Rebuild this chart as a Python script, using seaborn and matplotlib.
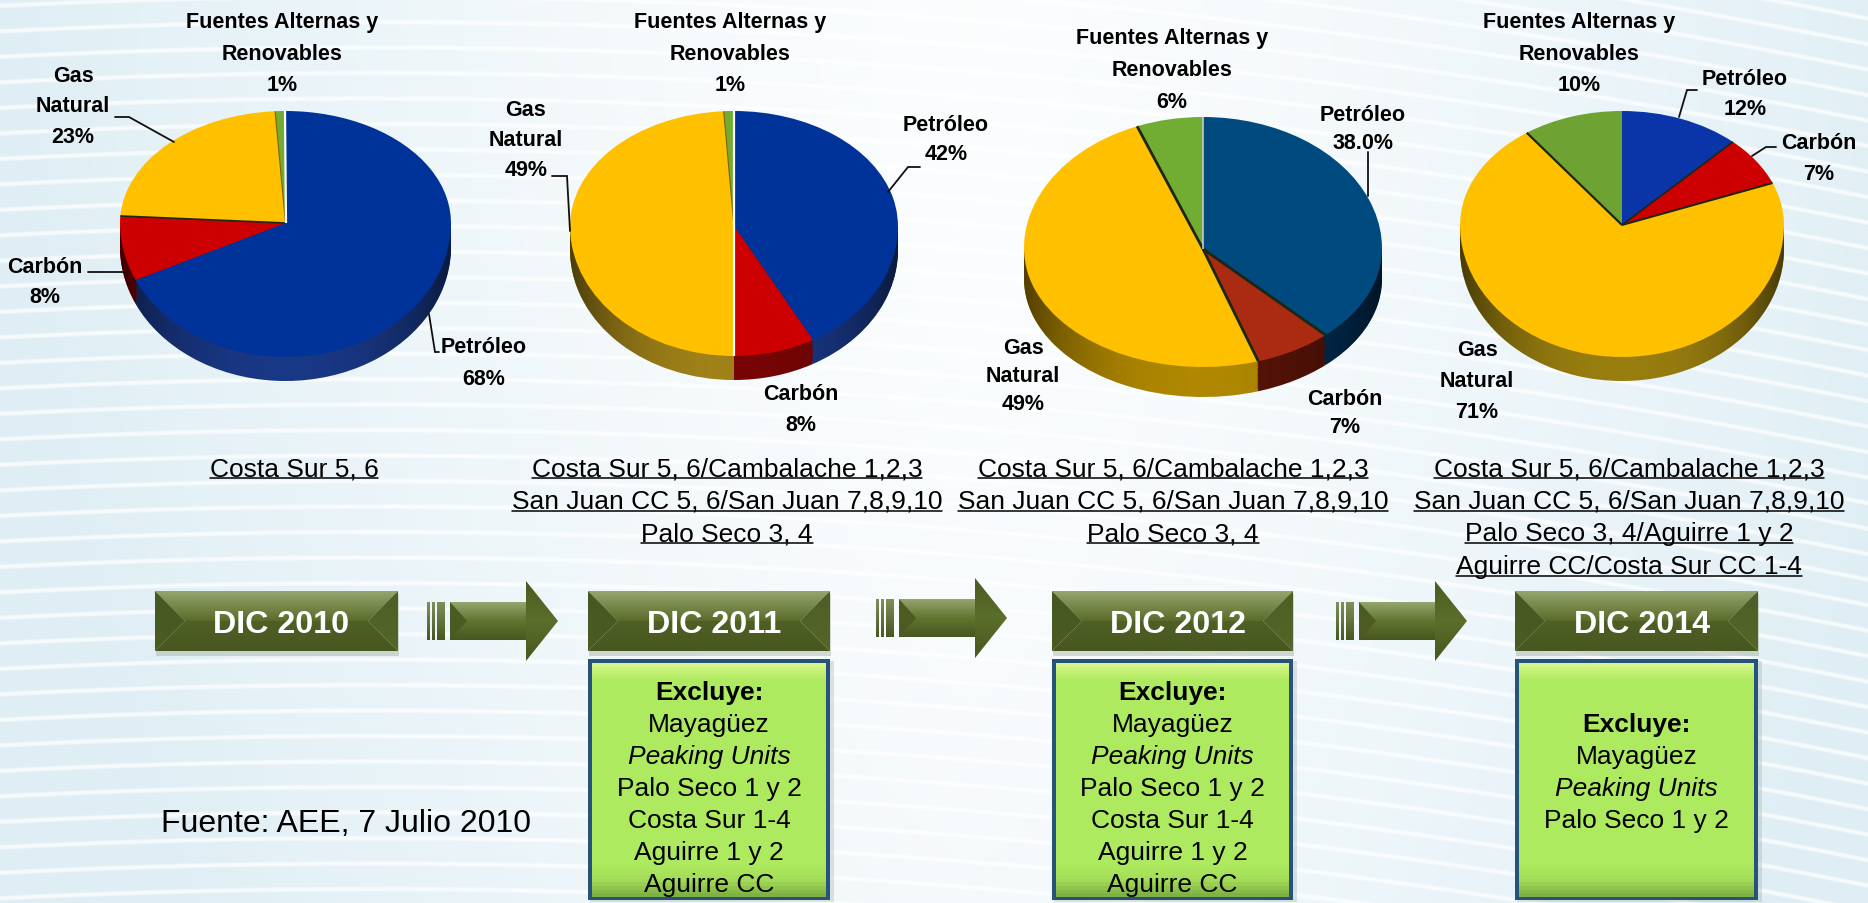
"""Generacion por combustible, DIC 2010 - DIC 2014."""

import matplotlib

matplotlib.use("Agg")

import matplotlib.pyplot as plt
import numpy as np
import seaborn as sns
from matplotlib.colors import LinearSegmentedColormap
from matplotlib.patches import Polygon, Rectangle

W, H = 1868, 904

# order in every pie: Petroleo, Carbon, Gas Natural, Fuentes Alternas
share_2010 = [68, 8, 23, 1]
share_2011 = [42, 8, 49, 1]
share_2012 = [38, 7, 49, 6]
share_2014 = [12, 7, 71, 10]

years = ["DIC 2010", "DIC 2011", "DIC 2012", "DIC 2014"]
plants_2010 = ["Costa Sur 5, 6"]
plants_2011 = ["Costa Sur 5, 6/Cambalache 1,2,3", "San Juan CC 5, 6/San Juan 7,8,9,10", "Palo Seco 3, 4"]
plants_2012 = list(plants_2011)
plants_2014 = ["Costa Sur 5, 6/Cambalache 1,2,3", "San Juan CC 5, 6/San Juan 7,8,9,10",
               "Palo Seco 3, 4/Aguirre 1 y 2", "Aguirre CC/Costa Sur CC 1-4"]
excl_long = ["Mayagüez", "Peaking Units", "Palo Seco 1 y 2", "Costa Sur 1-4", "Aguirre 1 y 2", "Aguirre CC"]
excl_short = ["Mayagüez", "Peaking Units", "Palo Seco 1 y 2"]

FUENTES = ["Fuentes Alternas y", "Renovables"]
GAS = ["Gas", "Natural"]
DY = 2.5  # va="center" sits a bit high for these fonts


def px_axes(fig, x0, x1, y0, y1):
    return fig.add_axes([x0 / W, 1 - y1 / H, (x1 - x0) / W, (y1 - y0) / H])


def draw_pie(fig, values, colors, side, box, apex_y, depth, seps):
    left, right, top, bottom = box
    # side wall: a stack of darker pies, only the lower rim stays visible
    ax = px_axes(fig, left, right, apex_y, bottom + depth)
    ry = bottom - apex_y
    drop = depth / ry
    for off in np.linspace(drop, 0, 14):
        ax.pie(values, colors=side, startangle=90, counterclock=False, center=(0, -off),
               wedgeprops={"linewidth": 0, "clip_on": True})
    ax.set_aspect("auto")
    t = np.linspace(np.pi, 2 * np.pi, 80)
    rim = np.column_stack([np.cos(t), np.sin(t) - drop])
    clip = Polygon(np.vstack([rim, [[1, 0], [-1, 0]]]), transform=ax.transData, fc="none", ec="none")
    ax.add_patch(clip)
    shade = np.zeros((1, 200, 4))
    xs = np.linspace(-1, 1, 200)
    shade[..., 3] = 0.05 + 0.5 * np.abs(xs) ** 2.5
    ax.imshow(shade, extent=(-1, 1, -1 - drop, 0), aspect="auto", clip_path=clip, zorder=5)
    ax.set_xlim(-1, 1)
    ax.set_ylim(-1 - drop, 0)
    ax.axis("off")

    # top face, upper and lower half squeezed apart because of the perspective
    up, low = apex_y - top, bottom - apex_y
    ax = px_axes(fig, left, right, top, bottom)
    ax.pie(values, colors=colors, startangle=90, counterclock=False,
           wedgeprops={"linewidth": 0, "clip_on": False})
    ax.set_aspect("auto")
    ax.set_yscale("function", functions=(
        lambda y: np.where(y > 0, y * up, y * low),
        lambda v: np.where(v > 0, v / up, v / low),
    ))
    # slice borders from the same shares
    ends = np.cumsum(values) / np.sum(values) * 2 * np.pi
    for ang, (col, lw) in zip(ends, seps):
        if col is not None:
            ax.plot([0, np.sin(ang)], [0, np.cos(ang)], color=col, lw=lw, clip_on=False,
                    solid_capstyle="butt")
    ax.set_xlim(-1, 1)
    ax.set_ylim(-1, 1)
    ax.axis("off")


def block(ax, x, y, lines, step=31, size=15.5, weight="bold", **kw):
    for i, line in enumerate(lines):
        ax.text(x, y + DY + i * step, line, ha="center", va="center", fontsize=size,
                fontweight=weight, color="black", **kw)


def leader(ax, xs, ys):
    ax.plot(xs, ys, color="#111111", lw=1.3, solid_joinstyle="miter")


def grad_fill(ax, pts, stops):
    """Fill a polygon with a vertical colour ramp."""
    pts = np.asarray(pts, dtype=float)
    poly = Polygon(pts, fc="none", ec="none", zorder=1)
    ax.add_patch(poly)
    cmap = LinearSegmentedColormap.from_list("ramp", stops)
    extent = (pts[:, 0].min(), pts[:, 0].max(), pts[:, 1].max(), pts[:, 1].min())
    ax.imshow(np.linspace(0, 1, 64)[:, None], cmap=cmap, extent=extent, aspect="auto",
              clip_path=poly, zorder=1)


def year_box(ax, x0, x1, y0, y1, label):
    ax.add_patch(Rectangle((x0 + 1, y0 + 3), x1 - x0, y1 - y0 + 2, fc="#9aa893", ec="none", alpha=0.4, zorder=1))
    ym = (y0 + y1) / 2
    b = 30
    grad_fill(ax, [(x0, y0), (x1, y0), (x1 - b, ym), (x0 + b, ym)], ["#94a56e", "#5a6b2a"])
    grad_fill(ax, [(x0, y1), (x1, y1), (x1 - b, ym), (x0 + b, ym)], ["#4f6026", "#47571f"])
    grad_fill(ax, [(x0, y0), (x0 + b, ym), (x0, y1)], ["#485823", "#4b5b22"])
    grad_fill(ax, [(x1, y0), (x1 - b, ym), (x1, y1)], ["#4e5e25", "#55662a"])
    ax.text((x0 + x1) / 2 + 5, ym + 3.5, label, ha="center", va="center", color="white",
            fontsize=23.2, fontweight="bold")


def arrow(ax, x, yc):
    for sx, sw in [(0, 3), (5, 3), (10, 8)]:
        grad_fill(ax, [(x + sx, yc - 19), (x + sx + sw, yc - 19), (x + sx + sw, yc + 19), (x + sx, yc + 19)],
                  ["#7f9058", "#47571f"])
    grad_fill(ax, [(x + 23, yc - 19), (x + 99, yc - 19), (x + 99, yc + 19), (x + 23, yc + 19)],
              ["#94a56e", "#62742f", "#47571f"])
    grad_fill(ax, [(x + 99, yc - 40), (x + 131, yc), (x + 99, yc + 40)], ["#4b5b22", "#5c6e2b", "#47571f"])
    ax.add_patch(Polygon([(x + 23, yc - 19), (x + 40, yc), (x + 23, yc + 19)], fc="#4b5b22", ec="none", zorder=1))


def green_box(ax, x0, x1, y0, y1):
    ax.add_patch(Rectangle((x0 + 2, y0 + 2), x1 - x0 + 2, y1 - y0, fc="#8c9488", ec="none", alpha=0.25, zorder=1))
    ax.add_patch(Rectangle((x0, y0), x1 - x0, y1 - y0, fc="#25537c", ec="none", zorder=1))
    grad_fill(ax, [(x0 + 4, y0 + 4), (x1 - 4, y0 + 4), (x1 - 4, y1 - 3), (x0 + 4, y1 - 3)],
              ["#d6f687", "#aeea5f", "#aeea5f", "#aeea5f", "#aeea5f", "#aeea5f", "#aeea5f", "#aeea5f", "#aeea5f",
               "#aeea5f", "#aeea5f", "#aeea5f", "#aeea5f", "#aeea5f", "#a4dd58", "#7fb143"])


sns.set_theme(style="white")
plt.rcParams["font.family"] = ["Liberation Sans", "DejaVu Sans"]

fig = plt.figure(figsize=(W / 100, H / 100), dpi=100)

# background wash with the thin pale streaks
bg = fig.add_axes([0, 0, 1, 1])
yy, xx = np.mgrid[0:H, 0:W]
edge_dist = np.abs(xx - W * 0.52) / (W * 0.52)
tint = np.clip(0.12 + 0.9 * edge_dist ** 1.4 + 0.2 * (yy / H) ** 2, 0, 1)
phase = yy + 0.05 * xx - 6.7e-5 * xx ** 2
wave = np.sin(phase * 2 * np.pi / 25.5)
streak = np.clip((wave - 0.75) / 0.25, 0, 1)
tint = tint * (1 - 0.75 * streak)
base = np.array([1.0, 1.0, 1.0])
cold = np.array([0.875, 0.935, 0.96])
img = base + (cold - base) * tint[..., None]
bg.imshow(img, aspect="auto", extent=(0, W, H, 0))
bg.axis("off")

RED, GAS_C, GREEN = "#cc0000", "#ffc000", "#70ad32"
DARK = "#1c2610"
draw_pie(fig, share_2010, ["#003399", RED, GAS_C, GREEN], ["#1a3a8c", "#8a0000", "#8a7000", "#4a7020"],
         (120, 451, 112, 358), 224, 24,
         [(None, 0), (DARK, 1.2), ("#806000", 0.8), ("#ffffff", 1.6)])
draw_pie(fig, share_2011, ["#003399", RED, GAS_C, GREEN], ["#1a3a8c", "#7d0505", "#a8881a", "#4a7020"],
         (570, 898, 112, 357), 227, 24,
         [(None, 0), ("#ffffff", 1.6), ("#806000", 0.8), ("#ffffff", 1.6)])
draw_pie(fig, share_2012, ["#004a80", "#ab2b12", GAS_C, GREEN], ["#00305a", "#5a1407", "#b88e00", "#4a7020"],
         (1024, 1382, 118, 368), 250, 30,
         [(DARK, 2), (DARK, 2), (DARK, 2), ("#c8c8c8", 1.2)])
draw_pie(fig, share_2014, ["#0a35a8", RED, GAS_C, "#6ea232"], ["#1a3a8c", "#7d0505", "#a08410", "#4a7020"],
         (1460, 1784, 112, 358), 226, 24,
         [(DARK, 1.2), (DARK, 1.4), (DARK, 1.6), (None, 0)])

ax = fig.add_axes([0, 0, 1, 1], facecolor="none")

# pie labels, share taken from the arrays above
block(ax, 282, 20, FUENTES + [f"{share_2010[3]}%"], step=31.5)
block(ax, 73, 74, GAS + [f"{share_2010[2]}%"], step=30.5)
block(ax, 45, 265, ["Carbón", f"{share_2010[1]}%"], step=30)
block(ax, 484, 345, ["Petróleo", f"{share_2010[0]}%"], step=32)

block(ax, 730, 20, FUENTES + [f"{share_2011[3]}%"], step=31.5)
block(ax, 526, 108, GAS + [f"{share_2011[2]}%"], step=30)
block(ax, 946, 123, ["Petróleo", f"{share_2011[0]}%"], step=29)
block(ax, 801, 392, ["Carbón", f"{share_2011[1]}%"], step=31)

block(ax, 1172, 36, FUENTES + [f"{share_2012[3]}%"], step=32)
block(ax, 1363, 113, ["Petróleo", f"{share_2012[0]:.1f}%"], step=28)
block(ax, 1023, 346, GAS + [f"{share_2012[2]}%"], step=28)
block(ax, 1345, 397, ["Carbón", f"{share_2012[1]}%"], step=28)

block(ax, 1579, 20, FUENTES + [f"{share_2014[3]}%"], step=31.5)
block(ax, 1745, 77, ["Petróleo", f"{share_2014[0]}%"], step=30)
block(ax, 1819, 141, ["Carbón", f"{share_2014[1]}%"], step=31)
block(ax, 1477, 348, GAS + [f"{share_2014[2]}%"], step=31)

leader(ax, [115, 129, 174], [118, 118, 143])
leader(ax, [88, 126], [273, 273])
leader(ax, [429, 435, 439], [315, 353, 353])
leader(ax, [552, 567, 570], [177, 177, 232])
leader(ax, [920, 908, 888], [168, 168, 193])
leader(ax, [1368, 1368], [153, 197])
leader(ax, [1697, 1687, 1679], [91, 91, 118])
leader(ax, [1776, 1766, 1752], [148, 148, 157])

# underlined plant lists
renderer = fig.canvas.get_renderer()
for x, lines in zip([294, 727, 1173, 1629], [plants_2010, plants_2011, plants_2012, plants_2014]):
    for i, line in enumerate(lines):
        y = 467 + i * 32.5
        t = ax.text(x, y + DY, line, ha="center", va="center", fontsize=19, color="black")
        ext = t.get_window_extent(renderer)
        ax.plot([x - ext.width / 2, x + ext.width / 2], [y + 12, y + 12], color="black", lw=1.1)

for (x0, x1), label in zip([(155, 398), (588, 830), (1052, 1293), (1515, 1758)], years):
    year_box(ax, x0, x1, 592, 652, label)
for x, yc in [(427, 622), (876, 619), (1336, 622)]:
    arrow(ax, x, yc)

for (x0, x1), items, y0 in [((588, 830), excl_long, 691), ((1052, 1293), excl_long, 691),
                            ((1515, 1758), excl_short, 723)]:
    green_box(ax, x0, x1, 660, 901)
    xc = (x0 + x1) / 2
    block(ax, xc, y0, ["Excluye:"], size=19)
    for i, item in enumerate(items):
        ax.text(xc, y0 + DY + 32 * (i + 1), item, ha="center", va="center", fontsize=19, color="black",
                style="italic" if item == "Peaking Units" else "normal")

ax.text(161, 822 + DY, "Fuente: AEE, 7 Julio 2010", ha="left", va="center", fontsize=23, color="black")

# imshow moves the limits, so fix the pixel frame last
ax.set_xlim(0, W)
ax.set_ylim(H, 0)
ax.axis("off")

fig.savefig("out.png", dpi=100)
plt.close(fig)
